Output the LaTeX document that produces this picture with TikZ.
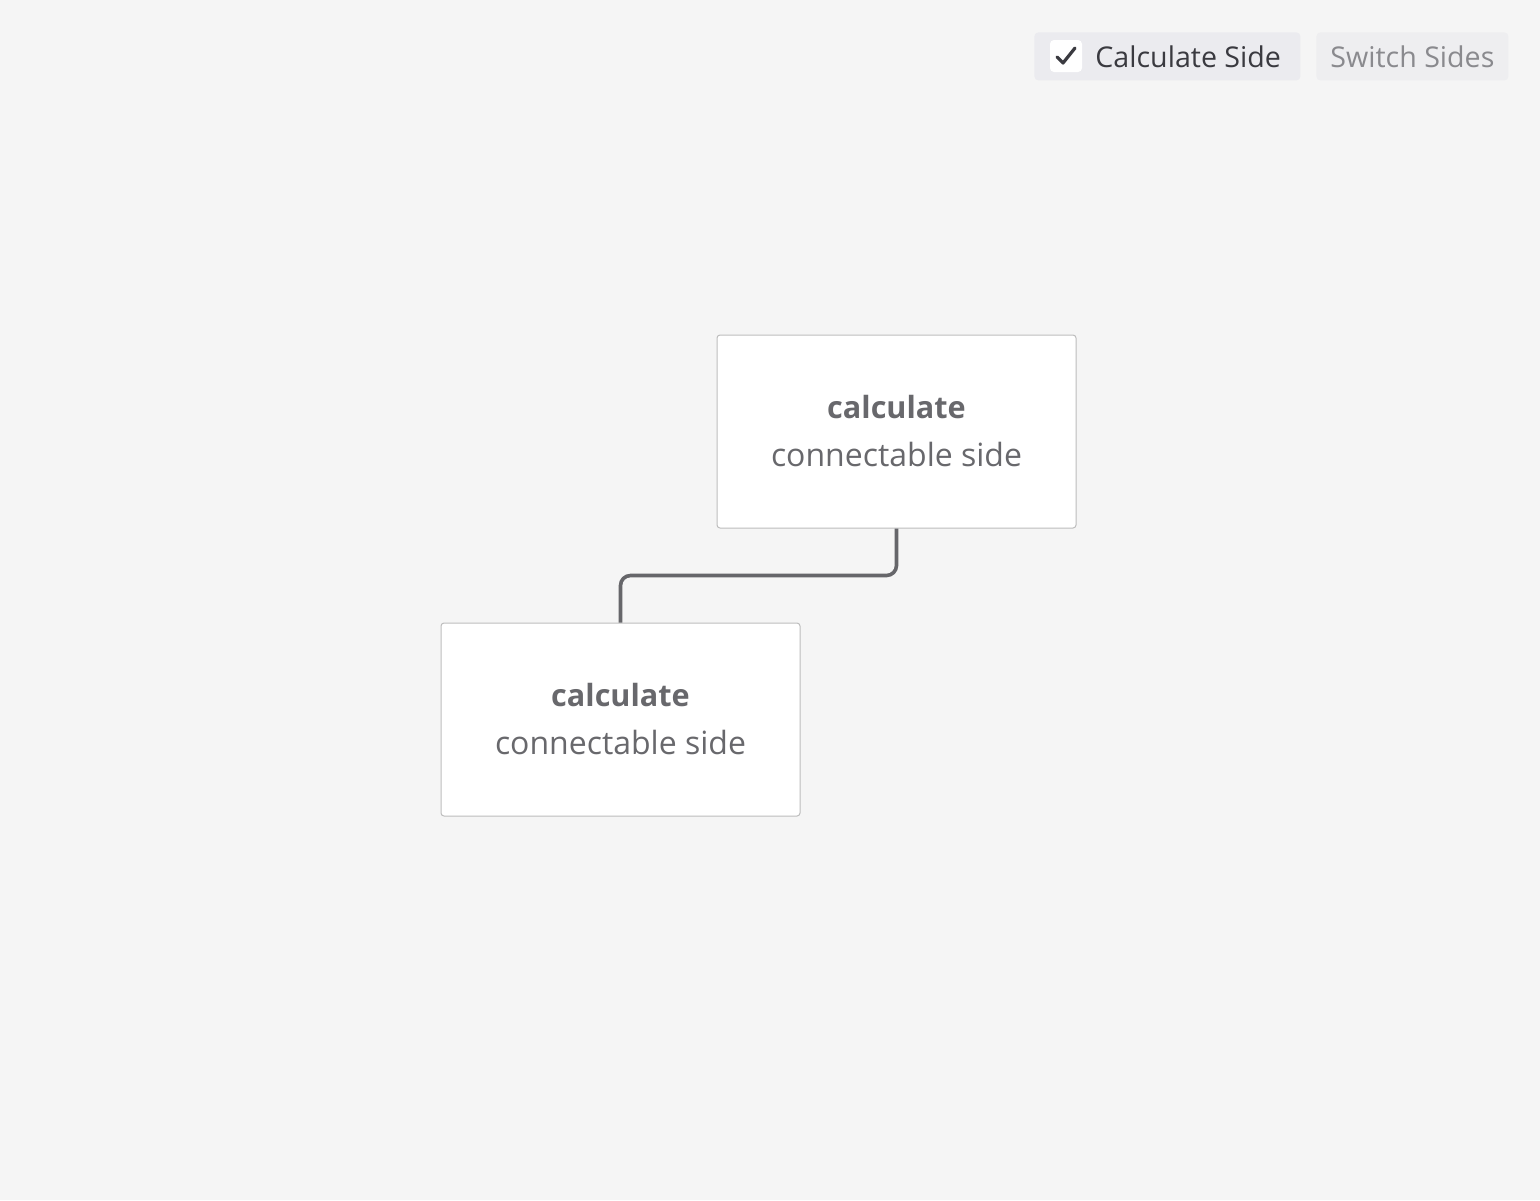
\documentclass[tikz,border=0pt]{standalone}
\usepackage{fontspec}
\setmainfont{Open Sans}
\usepackage{tikz}
\usetikzlibrary{positioning}
\definecolor{canvasgray}{HTML}{F5F5F5}
\definecolor{nodeline}{HTML}{BDBDBD}
\definecolor{nodetext}{HTML}{68686C}
\definecolor{linkgray}{HTML}{66666A}
\definecolor{btnfill}{HTML}{EBEBEF}
\definecolor{btnfaint}{HTML}{EEEEF0}
\definecolor{btntext}{HTML}{3A3A40}
\definecolor{btnmuted}{HTML}{8A8A8E}

\begin{document}
\begin{tikzpicture}[
      x=0.5pt, y=-0.5pt,
      sidebox/.style={draw=nodeline, fill=white, line width=0.5pt, rounded corners=1.5pt,
        minimum width=179.5pt, minimum height=96.5pt, align=center, text=nodetext,
        font=\fontsize{16}{24}\selectfont},
      link/.style={draw=linkgray, line width=1.8pt, rounded corners=5pt},
      toolbtn/.style={rounded corners=2pt, minimum height=24pt, inner sep=0pt,
        font=\fontsize{14.3}{16}\selectfont}
    ]
      % canvas
      \fill[canvasgray] (0,0) rectangle (1540,1200);
      \useasboundingbox (0,0) rectangle (1540,1200);

      % toolbar
      \node[toolbtn, fill=btnfill, minimum width=133pt, anchor=north west] (calcbtn) at (1034,32) {};
      \node[fill=white, rounded corners=2pt, minimum size=16pt, inner sep=0pt] (checkbox) at (1066,56) {};
      \draw[btntext, line width=1.6pt, line cap=round, line join=round]
        ([shift={(-9,1)}]checkbox.center) -- ([shift={(-3,7)}]checkbox.center) -- ([shift={(9,-8)}]checkbox.center);
      \node[font=\fontsize{14.3}{16}\selectfont, text=btntext, anchor=west, inner sep=0pt] (calclabel) at (1095,57) {Calculate Side};
      \node[toolbtn, fill=btnfaint, minimum width=96pt, text=btnmuted, anchor=north west] (switchbtn) at (1316,32) {Switch Sides};

      % nodes
      \node[sidebox] (upper) at (896.5,431.5) {{\fontsize{15.3}{24}\selectfont\bfseries calculate}\\connectable side};
      \node[sidebox] (lower) at (620.5,719.5) {{\fontsize{15.3}{24}\selectfont\bfseries calculate}\\connectable side};

      % connector
      \draw[link] (upper.south) -- ++(0,47) -| (lower.north);
    \end{tikzpicture}
\end{document}
